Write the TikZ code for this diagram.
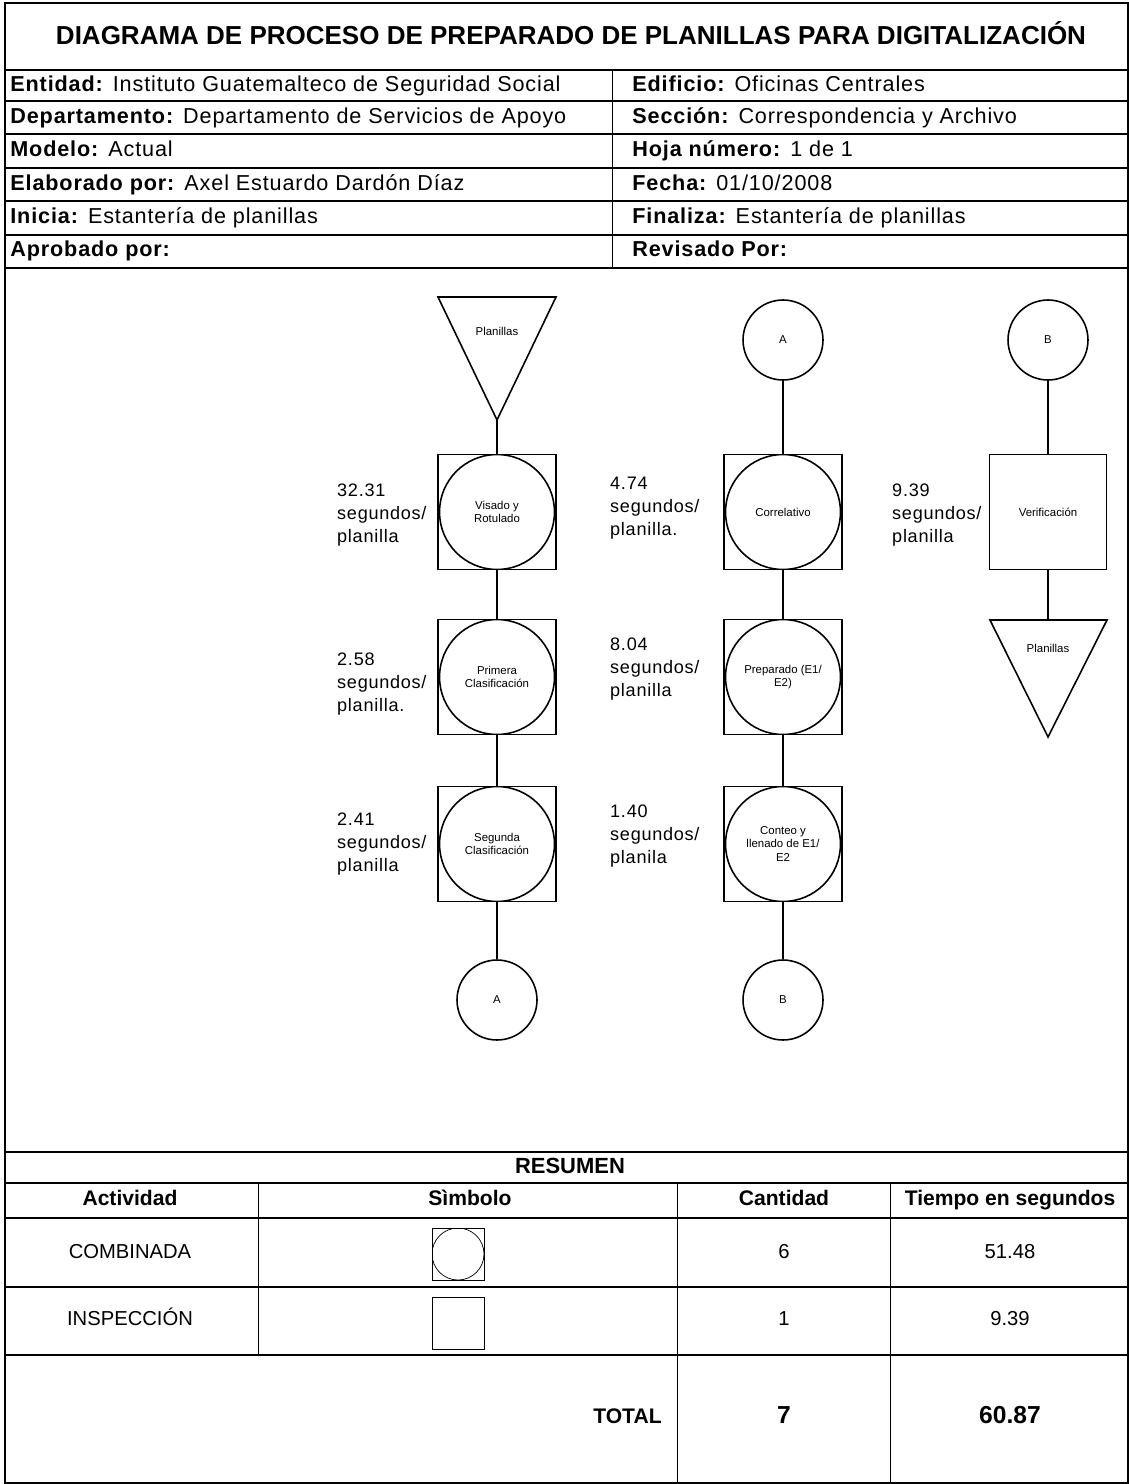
\documentclass[tikz,border=0pt]{standalone}
\usepackage{fontspec}
\setmainfont{Liberation Sans}
\usetikzlibrary{positioning}

\tikzset{
  combbox/.style={draw, line width=0.9pt, minimum width=2.36cm, minimum height=2.3cm,
    inner sep=0pt, align=center, font=\fontsize{6.5}{7.5}\selectfont,
    path picture={\draw[line width=0.9pt] (path picture bounding box.center) circle (1.15cm);}},
  inspbox/.style={draw, line width=0.9pt, minimum width=2.34cm, minimum height=2.3cm,
    inner sep=0pt, align=center, font=\fontsize{6.5}{7.5}\selectfont},
  conn/.style={circle, draw, line width=0.9pt, minimum size=1.6cm, inner sep=0pt,
    font=\fontsize{6.5}{7.5}\selectfont},
  tlbl/.style={anchor=west, align=left,
    font=\fontsize{10.3}{13}\selectfont\addfontfeature{LetterSpace=4}},
  hdr/.style={anchor=west, inner sep=0pt, text height=1.6ex, text depth=0.4ex,
    font=\fontsize{12.3}{14}\selectfont\addfontfeature{LetterSpace=4}},
  cell/.style={inner sep=0pt, text height=1.6ex, text depth=0.4ex,
    font=\fontsize{11.5}{13}\selectfont},
  bcell/.style={cell, font=\fontsize{12}{14}\selectfont\bfseries},
  flow/.style={line width=0.9pt},
}

\begin{document}
\begin{tikzpicture}[x=0.02cm, y=-0.02cm]
\useasboundingbox (0,0) rectangle (1129,1484);

% marco y encabezado
\draw[line width=1.3pt] (5,3) rectangle (1128,1483);
\node[inner sep=0pt, font=\fontsize{14.8}{16}\selectfont\bfseries] (titulo) at (571,33)
  {DIAGRAMA DE PROCESO DE PREPARADO DE PLANILLAS PARA DIGITALIZACIÓN};
\foreach \y in {70,101,134,168,201,235,268}
  \draw[line width=1pt] (5,\y) -- (1128,\y);
\draw (612,70) -- (612,268);

\node[hdr] (entidad) at (10,85.5) {\textbf{Entidad:} Instituto Guatemalteco de Seguridad Social};
\node[hdr] (depto) at (10,118) {\textbf{Departamento:} Departamento de Servicios de Apoyo};
\node[hdr] (modelo) at (10,151) {\textbf{Modelo:} Actual};
\node[hdr] (elab) at (10,185) {\textbf{Elaborado por:} Axel Estuardo Dardón Díaz};
\node[hdr] (inicia) at (10,218) {\textbf{Inicia:} Estantería de planillas};
\node[hdr] (aprob) at (10,251) {\textbf{Aprobado por:}};
\node[hdr] (edificio) at (632,85.5) {\textbf{Edificio:} Oficinas Centrales};
\node[hdr] (seccion) at (632,118) {\textbf{Sección:} Correspondencia y Archivo};
\node[hdr] (hoja) at (632,151) {\textbf{Hoja número:} 1 de 1};
\node[hdr] (fecha) at (632,185) {\textbf{Fecha:} 01/10/2008};
\node[hdr] (finaliza) at (632,218) {\textbf{Finaliza:} Estantería de planillas};
\node[hdr] (revis) at (632,251) {\textbf{Revisado Por:}};

% columna 1
\draw[flow] (438,297) -- (556,297) -- (497,420) -- cycle;
\node[font=\fontsize{6.5}{7.5}\selectfont] (plan1) at (497,331) {Planillas};
\coordinate (t1) at (497,420);
\node[combbox] (visado) at (497,512) {Visado y\\Rotulado};
\node[combbox] (prim) at (497,677) {Primera\\Clasificación};
\node[combbox] (seg) at (497,844) {Segunda\\Clasificación};
\node[conn] (a1) at (497,1000) {A};
\node[tlbl] (lv) at (331,515) {32.31\\segundos/\\planilla};
\node[tlbl] (lp) at (331,684) {2.58\\segundos/\\planilla.};
\node[tlbl] (ls) at (331,844) {2.41\\segundos/\\planilla};
\draw[flow] (t1) -- (visado);
\draw[flow] (visado) -- (prim);
\draw[flow] (prim) -- (seg);
\draw[flow] (seg) -- (a1);

% columna 2
\node[conn] (a2) at (783,340) {A};
\node[combbox] (correl) at (783,512) {Correlativo};
\node[combbox] (prep) at (783,677) {Preparado (E1/\\E2)};
\node[combbox] (conteo) at (783,844) {Conteo y\\llenado de E1/\\E2};
\node[conn] (b1) at (783,1000) {B};
\node[tlbl] (lc) at (604,508) {4.74\\segundos/\\planilla.};
\node[tlbl] (lpr) at (604,669) {8.04\\segundos/\\planilla};
\node[tlbl] (lco) at (604,836) {1.40\\segundos/\\planila};
\draw[flow] (a2) -- (correl);
\draw[flow] (correl) -- (prep);
\draw[flow] (prep) -- (conteo);
\draw[flow] (conteo) -- (b1);

% columna 3
\node[conn] (b2) at (1048,340) {B};
\node[inspbox] (verif) at (1048,512) {Verificación};
\draw[flow] (990,620) -- (1107,620) -- (1048,737) -- cycle;
\coordinate (t2) at (1048,620);
\node[font=\fontsize{6.5}{7.5}\selectfont] (plan2) at (1048,648) {Planillas};
\node[tlbl] (lve) at (886,515) {9.39\\segundos/\\planilla};
\draw[flow] (b2) -- (verif);
\draw[flow] (verif) -- (t2);

% resumen
\foreach \y in {1152,1183,1218,1287,1355}
  \draw[line width=1pt] (5,\y) -- (1128,\y);
\draw (258,1183) -- (258,1355);
\draw (677,1183) -- (677,1483);
\draw (890,1183) -- (890,1483);
\node[bcell, font=\fontsize{12.5}{14}\selectfont\bfseries] (resumen) at (570,1168) {RESUMEN};
\node[bcell] (hact) at (130,1200) {Actividad};
\node[bcell] (hsim) at (470,1200) {Sìmbolo};
\node[bcell] (hcan) at (784,1200) {Cantidad};
\node[bcell] (htie) at (1010,1200) {Tiempo en segundos};
\node[cell] (comb) at (130,1253) {COMBINADA};
\node[draw, minimum size=1.04cm, inner sep=0pt,
  path picture={\draw (path picture bounding box.center) circle (0.52cm);}] (scomb) at (458,1254) {};
\node[cell] (ncomb) at (784,1253) {6};
\node[cell] (tcomb) at (1010,1253) {51.48};
\node[cell] (insp) at (130,1320) {INSPECCIÓN};
\node[draw, minimum size=1.04cm, inner sep=0pt] (sinsp) at (458,1323) {};
\node[cell] (ninsp) at (784,1320) {1};
\node[cell] (tinsp) at (1010,1320) {9.39};
\node[bcell, anchor=east] (total) at (662,1418) {TOTAL};
\node[bcell, font=\fontsize{14}{16}\selectfont\bfseries] (ntot) at (784,1418) {7};
\node[bcell, font=\fontsize{14}{16}\selectfont\bfseries] (ttot) at (1010,1418) {60.87};
\end{tikzpicture}
\end{document}
